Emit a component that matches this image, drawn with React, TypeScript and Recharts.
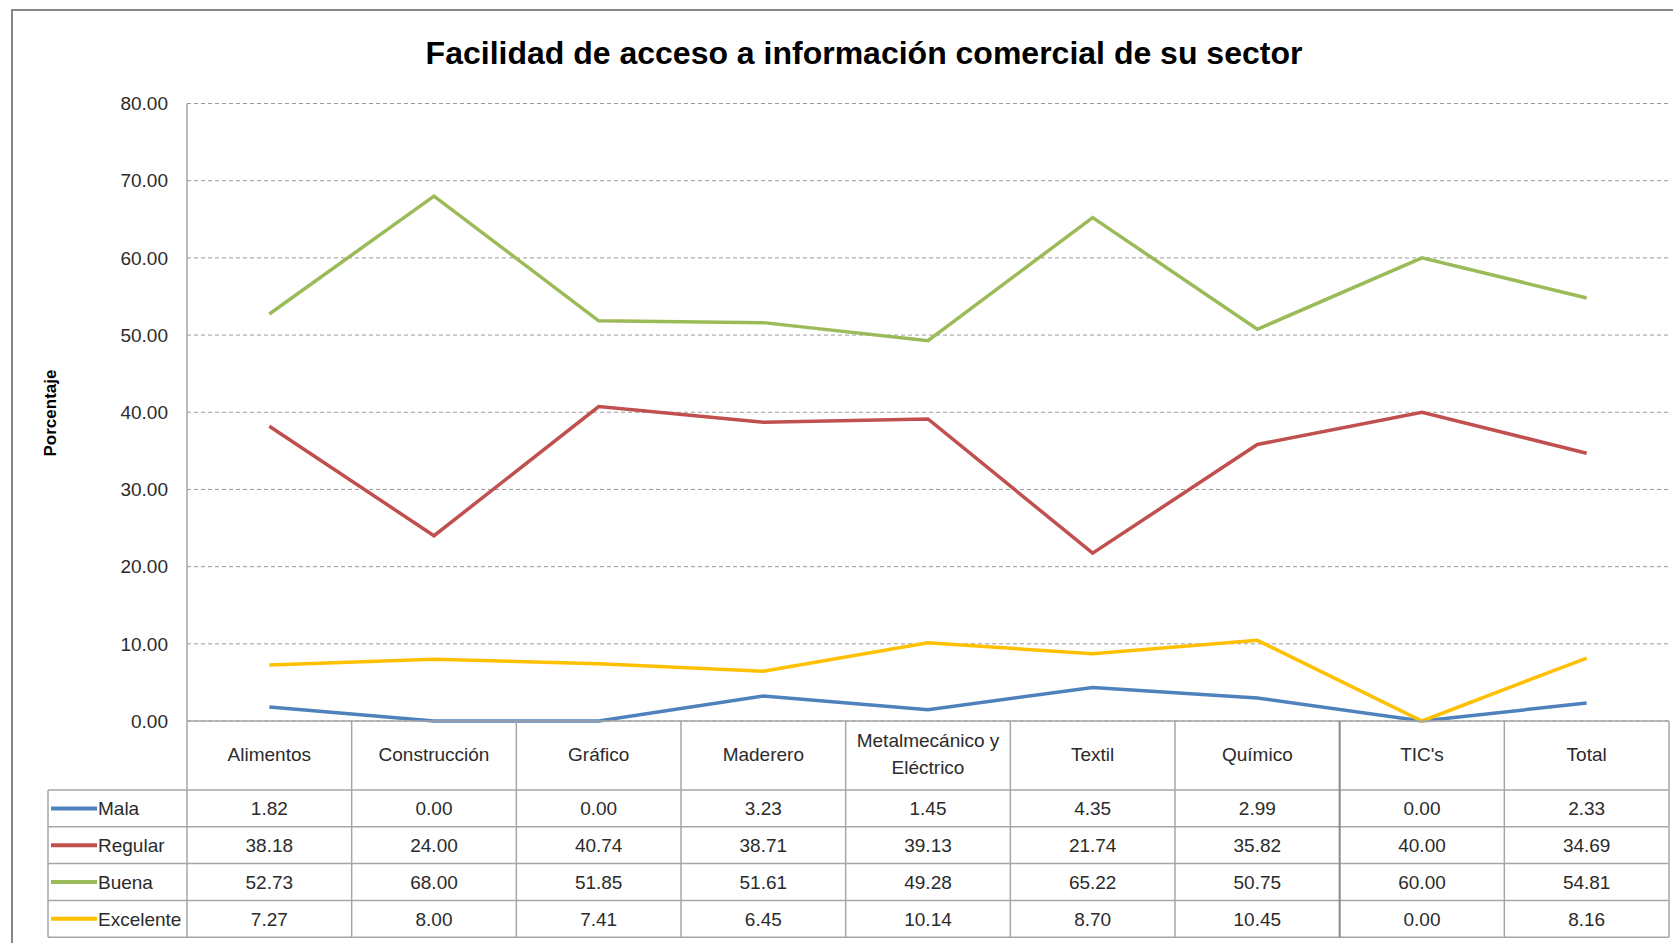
import { LineChart, Line, XAxis, YAxis, CartesianGrid } from 'recharts'

const categories = [
  'Alimentos',
  'Construcción',
  'Gráfico',
  'Maderero',
  'Metalmecánico y Eléctrico',
  'Textil',
  'Químico',
  "TIC's",
  'Total',
]
const mala = [1.82, 0.0, 0.0, 3.23, 1.45, 4.35, 2.99, 0.0, 2.33]
const regular = [38.18, 24.0, 40.74, 38.71, 39.13, 21.74, 35.82, 40.0, 34.69]
const buena = [52.73, 68.0, 51.85, 51.61, 49.28, 65.22, 50.75, 60.0, 54.81]
const excelente = [7.27, 8.0, 7.41, 6.45, 10.14, 8.7, 10.45, 0.0, 8.16]
const yTicks = [0, 10, 20, 30, 40, 50, 60, 70, 80]

const series = [
  { key: 'mala', name: 'Mala', color: '#4F81BD', values: mala },
  { key: 'regular', name: 'Regular', color: '#C0504D', values: regular },
  { key: 'buena', name: 'Buena', color: '#9BBB59', values: buena },
  { key: 'excelente', name: 'Excelente', color: '#FFC000', values: excelente },
]

const data = categories.map((name, i) => {
  const row: Record<string, string | number> = { name }
  series.forEach((s) => (row[s.key] = s.values[i]))
  return row
})

const W = 1673
const H = 943
const PLOT_LEFT = 187
const PLOT_RIGHT = 4
const COL_W = (W - PLOT_LEFT - PLOT_RIGHT) / categories.length
const HEADER_H = 69
const ROW_H = 36.8
const LEGEND_X = 48
const GRID = '#a6a6a6'
const FONT = 'Liberation Sans, Arial, sans-serif'
const TEXT = '#2b2b2b'

function TableTick(props: any) {
  const { x, y, payload, index } = props
  const left = x - COL_W / 2
  const right = x + COL_W / 2
  const bottom = y + HEADER_H + ROW_H * series.length
  const label: string = payload.value
  const lines = label.includes(' y ') ? [label.split(' y ')[0] + ' y', label.split(' y ')[1]] : [label]
  return (
    <g>
      {index === 0 && (
        <g>
          {series.map((s, r) => {
            const top = y + HEADER_H + r * ROW_H
            return (
              <g key={s.key}>
                <line x1={LEGEND_X} x2={W - PLOT_RIGHT} y1={top} y2={top} stroke={GRID} strokeWidth={1.5} />
                <line x1={51} x2={97} y1={top + ROW_H / 2} y2={top + ROW_H / 2} stroke={s.color} strokeWidth={4} />
                <text x={98} y={top + ROW_H / 2 + 7} fontSize={19} fill={TEXT} fontFamily={FONT}>
                  {s.name}
                </text>
              </g>
            )
          })}
          <line x1={LEGEND_X} x2={W - PLOT_RIGHT} y1={bottom} y2={bottom} stroke={GRID} strokeWidth={1.5} />
          <line x1={LEGEND_X} x2={LEGEND_X} y1={y + HEADER_H} y2={bottom} stroke={GRID} strokeWidth={1.5} />
          <line x1={left} x2={left} y1={y} y2={bottom} stroke={GRID} strokeWidth={1.5} />
        </g>
      )}
      <line x1={right} x2={right} y1={y} y2={bottom} stroke={index === 6 ? '#8a8a8a' : GRID} strokeWidth={index === 6 ? 2 : 1.5} />
      {lines.map((t, li) => (
        <text
          key={li}
          x={x}
          y={y + HEADER_H / 2 + 5 + (li - (lines.length - 1) / 2) * 27}
          textAnchor="middle"
          fontSize={19}
          fill={TEXT}
          fontFamily={FONT}
        >
          {t}
        </text>
      ))}
      {series.map((s, r) => (
        <text
          key={s.key}
          x={x}
          y={y + HEADER_H + r * ROW_H + ROW_H / 2 + 7}
          textAnchor="middle"
          fontSize={19}
          fill={TEXT}
          fontFamily={FONT}
        >
          {s.values[index].toFixed(2)}
        </text>
      ))}
    </g>
  )
}

export default function App() {
  return (
    <div style={{ position: 'absolute', left: 0, top: 0, width: W, height: H, overflow: 'hidden', background: '#fff' }}>
      <div
        style={{
          position: 'absolute',
          left: 11,
          top: 9,
          width: 1720,
          height: 1000,
          border: '2px solid #868686',
          boxSizing: 'border-box',
        }}
      />
      <div
        style={{
          position: 'absolute',
          left: 0,
          width: 1728,
          top: 35,
          textAlign: 'center',
          fontFamily: FONT,
          fontWeight: 'bold',
          fontSize: 32,
          color: '#000',
        }}
      >
        Facilidad de acceso a información comercial de su sector
      </div>
      <div
        style={{
          position: 'absolute',
          left: 51,
          top: 413,
          transform: 'translate(-50%, -50%) rotate(-90deg)',
          fontFamily: FONT,
          fontWeight: 'bold',
          fontSize: 17,
          color: '#000',
          whiteSpace: 'nowrap',
        }}
      >
        Porcentaje
      </div>
      <div style={{ position: 'absolute', left: 0, top: 0 }}>
        <LineChart width={W} height={H} data={data} margin={{ top: 103.5, right: PLOT_RIGHT, left: 0, bottom: 0 }}>
          <CartesianGrid horizontal vertical={false} stroke="#9a9a9a" strokeDasharray="4 3" />
          <XAxis
            dataKey="name"
            height={222}
            padding={{ left: COL_W / 2, right: COL_W / 2 }}
            interval={0}
            tickLine={false}
            tickSize={0}
            tickMargin={0}
            axisLine={{ stroke: GRID, strokeWidth: 1.5 }}
            tick={<TableTick />}
          />
          <YAxis
            width={PLOT_LEFT}
            domain={[0, 80]}
            ticks={yTicks}
            interval={0}
            tickFormatter={(v: number) => v.toFixed(2)}
            tickLine={false}
            tickMargin={13}
            axisLine={{ stroke: GRID, strokeWidth: 1.5 }}
            tick={{ fontSize: 19, fill: TEXT, fontFamily: FONT }}
          />
          {series.map((s) => (
            <Line
              key={s.key}
              dataKey={s.key}
              name={s.name}
              type="linear"
              stroke={s.color}
              strokeWidth={3.5}
              dot={false}
              activeDot={false}
              isAnimationActive={false}
            />
          ))}
        </LineChart>
      </div>
    </div>
  )
}
